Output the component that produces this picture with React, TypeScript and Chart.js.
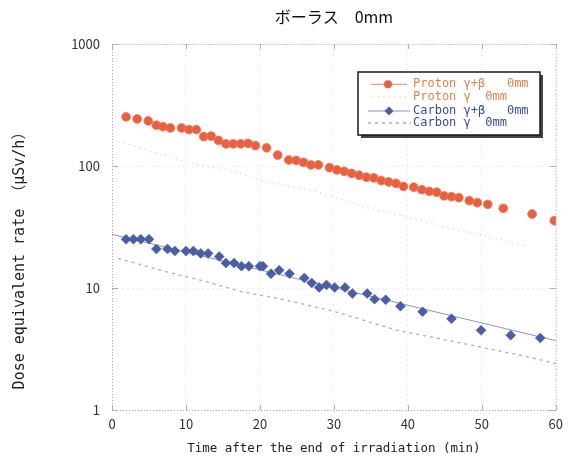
import React, { useEffect, useRef } from 'react';
import { Chart, registerables } from 'chart.js';

Chart.register(...registerables);

const chartTitle = 'ボーラス　0mm';
const xAxisTitle = 'Time after the end of irradiation (min)';
const yAxisTitle = 'Dose equivalent rate （μSv/h）';
const legendLabels = ['Proton γ+β   0mm', 'Proton γ  0mm', 'Carbon γ+β   0mm', 'Carbon γ  0mm'];
const xTickValues = [0, 10, 20, 30, 40, 50, 60];
const yTickValues = [1, 10, 100, 1000];

// Proton gamma+beta (circles)
const protonGBTime = [1.9, 3.4, 4.9, 6.0, 6.9, 7.9, 9.4, 10.4, 11.4, 12.4, 13.4, 14.4, 15.4, 16.4, 17.4, 18.4, 19.4, 20.9, 22.4, 23.9, 24.9, 25.9, 26.9, 27.9, 29.4, 30.4, 31.4, 32.4, 33.4, 34.4, 35.4, 36.4, 37.4, 38.4, 39.4, 40.8, 41.9, 42.9, 43.9, 44.9, 45.9, 46.9, 48.3, 49.4, 50.8, 52.9, 56.8, 59.8];
const protonGBDose = [253, 243, 234, 216, 210, 205, 205, 199, 199, 174, 176, 162, 152, 152, 152, 153, 147, 141, 123, 112, 111, 107, 102, 102, 97, 93, 90.5, 87, 84, 81, 80, 76, 74, 72, 68, 67, 64, 62, 61, 57, 56, 55, 52, 50, 48.5, 45, 40.4, 35.6];

// Proton gamma only (dotted line)
const protonGTime = [1.5, 2.6, 6.9, 10.9, 13.6, 16.3, 19.9, 23.0, 27.0, 30.2, 34.2, 40.0, 45.4, 51.2, 56.1];
const protonGDose = [155, 149, 123, 105, 99, 91, 77, 70, 63, 55, 46, 38, 31, 26.3, 21.8];

// Carbon gamma+beta (diamonds)
const carbonGBTime = [1.9, 2.9, 3.9, 5.0, 6.0, 7.5, 8.5, 10.0, 11.0, 12.0, 13.0, 14.5, 15.4, 16.5, 17.5, 18.5, 20.0, 20.4, 21.5, 22.6, 24.0, 26.0, 27.0, 28.0, 29.0, 30.1, 31.5, 32.5, 34.5, 35.5, 37.0, 39.0, 42.0, 45.9, 49.9, 53.9, 57.9];
const carbonGBDose = [25.1, 25.1, 25.1, 25.1, 20.9, 20.9, 20.1, 20.1, 20.1, 19.2, 19.2, 18.1, 16.0, 16.0, 15.1, 15.1, 15.1, 15.1, 13.1, 14.0, 13.1, 12.1, 11.0, 10.1, 10.6, 10.1, 10.1, 9.0, 9.0, 8.1, 8.0, 7.1, 6.4, 5.6, 4.5, 4.1, 3.9];

// Carbon gamma+beta fitted line
const carbonFitTime = [0, 60];
const carbonFitDose = [27.5, 3.7];

// Carbon gamma only (dotted line)
const carbonGTime = [0.8, 7.3, 12.7, 17.6, 23.4, 29.7, 38.6, 47.6, 56.6, 60];
const carbonGDose = [17.5, 13.6, 11.3, 9.3, 8.0, 6.5, 4.5, 3.5, 2.7, 2.4];

const COL_PROTON = '#e8603e';
const COL_PROTON_TXT = '#e2844c';
const COL_PROTON_G = '#f2dca6';
const COL_CARBON = '#4a5da6';
const COL_CARBON_TXT = '#3c4b98';
const COL_CARBON_FIT = '#8d96bc';
const COL_CARBON_G = '#a3acd2';

const MONO = '"DejaVu Sans Mono", "Noto Sans CJK JP", monospace';

function pts(xs: number[], ys: number[]) {
  return xs.map((x, i) => ({ x, y: ys[i] }));
}

export default function App() {
  const ref = useRef<HTMLCanvasElement>(null);

  useEffect(() => {
    const canvas = ref.current!;
    const decor = {
      id: 'decor',
      beforeDatasetsDraw(chart: any) {
        const { ctx, chartArea: a, scales } = chart;
        ctx.save();
        ctx.strokeStyle = '#a8a8a8';
        ctx.lineWidth = 1;
        ctx.setLineDash([1, 2]);
        ctx.strokeRect(a.left + 0.5, a.top + 0.5, a.right - a.left, a.bottom - a.top);
        ctx.setLineDash([]);
        ctx.strokeStyle = '#b0b0b0';
        ctx.beginPath();
        for (const v of xTickValues) {
          const x = Math.round(scales.x.getPixelForValue(v)) + 0.5;
          ctx.moveTo(x, a.bottom); ctx.lineTo(x, a.bottom - 5);
          ctx.moveTo(x, a.top); ctx.lineTo(x, a.top + 5);
        }
        for (const v of yTickValues) {
          const y = Math.round(scales.y.getPixelForValue(v)) + 0.5;
          ctx.moveTo(a.left, y); ctx.lineTo(a.left + 6, y);
          ctx.moveTo(a.right, y); ctx.lineTo(a.right - 6, y);
        }
        ctx.stroke();
        ctx.restore();
      },
      afterDraw(chart: any) {
        const { ctx, chartArea: a } = chart;
        ctx.save();
        // main title
        ctx.fillStyle = '#111';
        ctx.font = '16px "Noto Sans CJK JP"';
        ctx.textAlign = 'center';
        ctx.textBaseline = 'middle';
        ctx.fillText(chartTitle, (a.left + a.right) / 2, 17);
        // y title
        ctx.save();
        ctx.translate(20, 257);
        ctx.rotate(-Math.PI / 2);
        ctx.font = '15px ' + MONO;
        ctx.fillStyle = '#222';
        ctx.fillText(yAxisTitle, 0, 0);
        ctx.restore();
        // legend box
        const bx = 358, by = 72, bw = 182, bh = 63;
        ctx.fillStyle = '#444';
        ctx.fillRect(bx + 3, by + 3, bw, bh);
        ctx.fillStyle = '#fff';
        ctx.fillRect(bx, by, bw, bh);
        ctx.strokeStyle = '#1a1a1a';
        ctx.lineWidth = 1.5;
        ctx.strokeRect(bx, by, bw, bh);
        const rows = [84.3, 97, 111, 123];
        const colors = [COL_PROTON_TXT, COL_PROTON_TXT, COL_CARBON_TXT, COL_CARBON_TXT];
        // samples
        ctx.lineWidth = 1;
        ctx.strokeStyle = '#e8826a';
        ctx.beginPath(); ctx.moveTo(371, rows[0]); ctx.lineTo(407, rows[0]); ctx.stroke();
        ctx.fillStyle = COL_PROTON;
        ctx.beginPath(); ctx.arc(388, rows[0], 4, 0, Math.PI * 2); ctx.fill();
        ctx.setLineDash([1.5, 4]);
        ctx.strokeStyle = COL_PROTON_G;
        ctx.lineWidth = 1.3;
        ctx.beginPath(); ctx.moveTo(372, rows[1]); ctx.lineTo(406, rows[1]); ctx.stroke();
        ctx.setLineDash([]);
        ctx.strokeStyle = COL_CARBON_FIT;
        ctx.lineWidth = 1;
        ctx.beginPath(); ctx.moveTo(368, rows[2]); ctx.lineTo(410, rows[2]); ctx.stroke();
        ctx.fillStyle = COL_CARBON;
        ctx.beginPath();
        ctx.moveTo(389, rows[2] - 4.5); ctx.lineTo(393.5, rows[2]); ctx.lineTo(389, rows[2] + 4.5); ctx.lineTo(384.5, rows[2]);
        ctx.closePath(); ctx.fill();
        ctx.setLineDash([3, 4]);
        ctx.strokeStyle = COL_CARBON_G;
        ctx.lineWidth = 1.3;
        ctx.beginPath(); ctx.moveTo(368, rows[3]); ctx.lineTo(411, rows[3]); ctx.stroke();
        ctx.setLineDash([]);
        // texts
        ctx.font = '12px ' + MONO;
        ctx.textAlign = 'left';
        ctx.textBaseline = 'middle';
        legendLabels.forEach((t, i) => {
          ctx.fillStyle = colors[i];
          ctx.fillText(t, 413, rows[i]);
        });
        ctx.restore();
      },
    };

    const chart = new Chart(canvas, {
      type: 'scatter',
      data: {
        datasets: [
          {
            label: legendLabels[0],
            data: pts(protonGBTime, protonGBDose),
            pointStyle: 'circle',
            pointRadius: 4.4,
            backgroundColor: COL_PROTON,
            borderColor: '#ea7a5e',
            borderWidth: 0.8,
          },
          {
            label: legendLabels[2],
            data: pts(carbonGBTime, carbonGBDose),
            pointStyle: 'rectRot',
            pointRadius: 5,
            backgroundColor: COL_CARBON,
            borderColor: COL_CARBON,
            borderWidth: 0.5,
          },
          {
            label: 'Carbon fit',
            data: pts(carbonFitTime, carbonFitDose),
            showLine: true,
            pointRadius: 0,
            borderColor: COL_CARBON_FIT,
            borderWidth: 1,
          },
          {
            label: legendLabels[1],
            data: pts(protonGTime, protonGDose),
            showLine: true,
            pointRadius: 0,
            borderColor: COL_PROTON_G,
            borderWidth: 1.3,
            borderDash: [1.5, 4],
          },
          {
            label: legendLabels[3],
            data: pts(carbonGTime, carbonGDose),
            showLine: true,
            pointRadius: 0,
            borderColor: COL_CARBON_G,
            borderWidth: 1.3,
            borderDash: [3, 4],
          },
        ],
      },
      options: {
        responsive: false,
        animation: false,
        layout: { padding: { top: 44, right: 10, left: 0, bottom: 0 } },
        plugins: {
          legend: { display: false },
          tooltip: { enabled: false },
          title: { display: false },
        },
        scales: {
          x: {
            type: 'linear',
            min: 0,
            max: 60,
            afterBuildTicks: (s: any) => {
              s.ticks = xTickValues.map((v) => ({ value: v }));
            },
            afterFit: (s: any) => {
              s.height = 54;
            },
            ticks: {
              padding: 6,
              color: '#333',
              maxRotation: 0,
              autoSkip: false,
              font: { family: '"Noto Sans CJK JP"', size: 13 },
            },
            grid: { color: '#ededed', drawTicks: false },
            border: { display: false, dash: [2, 3] },
            title: {
              display: true,
              text: xAxisTitle,
              color: '#222',
              font: { family: MONO, size: 12.5 },
              padding: { top: 0, bottom: 7.5 },
            },
          },
          y: {
            type: 'logarithmic',
            min: 1,
            max: 1000,
            afterBuildTicks: (s: any) => {
              s.ticks = yTickValues.map((v) => ({ value: v }));
            },
            afterFit: (s: any) => {
              s.width = 112;
            },
            ticks: {
              padding: 12,
              color: '#333',
              autoSkip: false,
              font: { family: '"Noto Sans CJK JP"', size: 13 },
              callback: (v: any) => String(v),
            },
            grid: { color: '#ededed', drawTicks: false },
            border: { display: false, dash: [2, 3] },
          },
        },
      },
      plugins: [decor],
    } as any);
    return () => chart.destroy();
  }, []);

  return (
    <div style={{ position: 'fixed', left: 0, top: 0, width: 569, height: 464, background: '#fff' }}>
      <canvas ref={ref} width={569} height={464} style={{ display: 'block', width: 569, height: 464 }} />
    </div>
  );
}
